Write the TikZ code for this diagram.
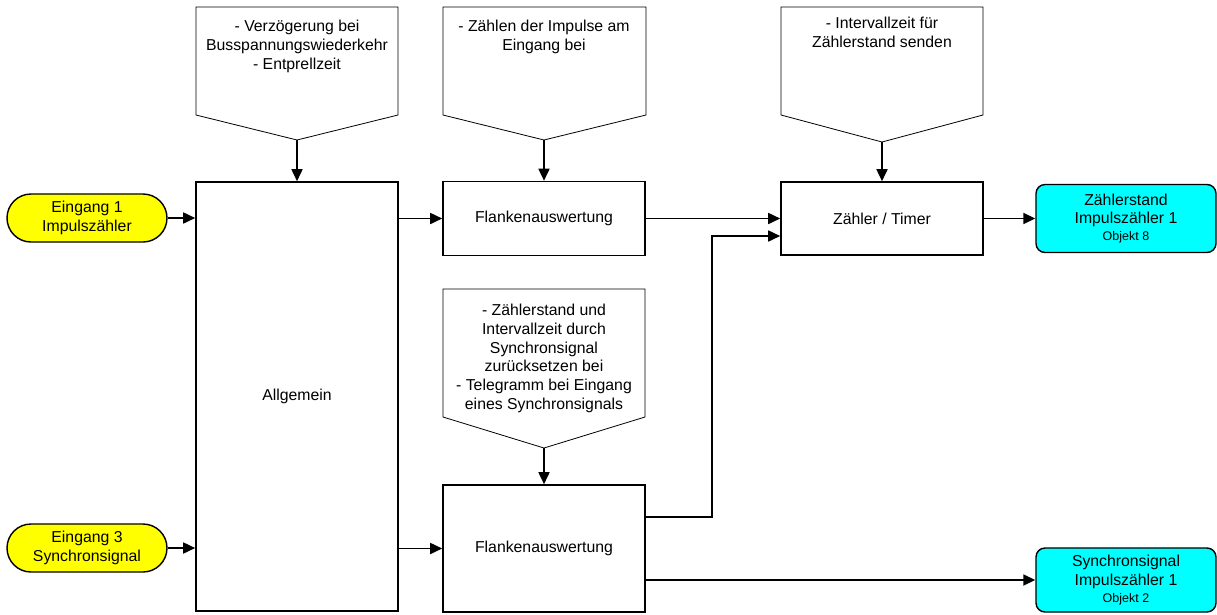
\documentclass[tikz,border=0pt]{standalone}
\usepackage{fontspec}
\setmainfont{Liberation Sans}
\usetikzlibrary{arrows.meta,shapes.misc}
\definecolor{eingelb}{RGB}{255,255,0}
\definecolor{austuerkis}{RGB}{0,255,255}
\newcommand{\klein}{\fontsize{12.5}{14}\selectfont}
\tikzset{
	kasten/.style={draw,line width=1.6pt,minimum width=202pt,align=center,inner sep=0pt},
	eingang/.style={draw,line width=1.4pt,fill=eingelb,rounded rectangle,minimum width=160pt,minimum height=48pt,align=center,inner sep=0pt},
	ausgang/.style={draw,line width=1.4pt,fill=austuerkis,rounded corners=9pt,minimum width=180pt,align=center,inner sep=0pt},
	hinweis/.style={draw,line width=0.8pt},
	htext/.style={align=center,anchor=north,inner sep=0pt},
	pfeil/.style={line width=1.7pt,-{Triangle[length=12pt,width=11pt]}},
}
\begin{document}
\begin{tikzpicture}[x=1pt,y=-1pt,font=\fontsize{15.8}{18.7}\selectfont]
	\useasboundingbox (0,0) rectangle (1217,614);
	\node[eingang] (ein1) at (87,218) {Eingang 1\\Impulszähler};
	\node[eingang] (ein3) at (87,548) {Eingang 3\\Synchronsignal};
	\node[kasten,minimum height=429pt] (allg) at (297,396.5) {Allgemein};
	\node[kasten,minimum height=74pt] (flk1) at (544,218.5) {Flankenauswertung};
	\node[kasten,minimum height=127pt] (flk2) at (544,548.5) {Flankenauswertung};
	\node[kasten,minimum height=73pt] (zt) at (882,218.5) {Zähler / Timer};
	\node[ausgang,minimum height=68pt] (aus1) at (1126,218.5) {Zählerstand\\Impulszähler 1\\[-2pt]{\klein Objekt 8}};
	\node[ausgang,minimum height=64pt] (aus2) at (1126,580) {Synchronsignal\\Impulszähler 1\\[-2pt]{\klein Objekt 2}};
	\draw[hinweis] (196,7) -- (398,7) -- (398,115) -- (297,140) coordinate (s1) -- (196,115) -- cycle;
	\draw[hinweis] (443,7) -- (646,7) -- (646,115) -- (544,140) coordinate (s2) -- (443,115) -- cycle;
	\draw[hinweis] (781,7) -- (983,7) -- (983,115) -- (882,142) coordinate (s3) -- (781,115) -- cycle;
	\draw[hinweis] (443,289) -- (645,289) -- (645,417) -- (544,448) coordinate (s4) -- (443,417) -- cycle;
	\node[htext] (h1) at (297,20) {- Verzögerung bei\\Busspannungswiederkehr\\- Entprellzeit};
	\node[htext] (h2) at (544,20) {- Zählen der Impulse am\\Eingang bei};
	\node[htext] (h3) at (882,17) {- Intervallzeit für\\Zählerstand senden};
	\node[htext] (h4) at (544,304) {- Zählerstand und\\Intervallzeit durch\\Synchronsignal\\zurücksetzen bei\\- Telegramm bei Eingang\\eines Synchronsignals};
	\draw[pfeil] (s1) -- (allg.north);
	\draw[pfeil] (s2) -- (flk1.north);
	\draw[pfeil] (s3) -- (zt.north);
	\draw[pfeil] (s4) -- (flk2.north);
	\draw[pfeil] (ein1.east) -- (ein1.east -| allg.west);
	\draw[pfeil] (ein3.east) -- (ein3.east -| allg.west);
	\draw[pfeil] (allg.east |- flk1.west) -- (flk1.west);
	\draw[pfeil] (allg.east |- flk2.west) -- (flk2.west);
	\draw[pfeil] (flk1.east) -- (zt.west);
	\draw[pfeil] (zt.east) -- (aus1.west);
	\draw[pfeil] (flk2.east |- 0,517) -| (712,236) -- (zt.west |- 0,236);
	\draw[pfeil] (flk2.east |- aus2.west) -- (aus2.west);
\end{tikzpicture}
\end{document}
